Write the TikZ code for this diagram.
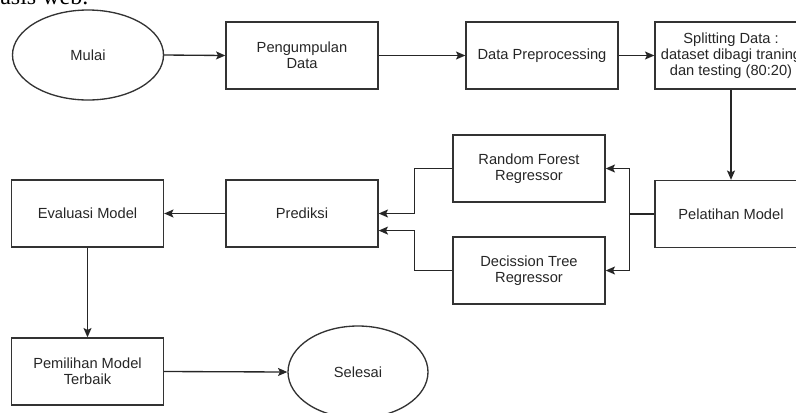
\documentclass[tikz,border=0pt]{standalone}
\usepackage{fontspec}
\setmainfont{Liberation Sans}
\newfontfamily\docserif{Liberation Serif}
\usetikzlibrary{arrows.meta,shapes.geometric,calc}

\begin{document}
\begin{tikzpicture}[x=0.75pt, y=-0.75pt,
    box/.style={draw=black!80, line width=1pt, rectangle, minimum width=114pt, minimum height=50.25pt,
        inner sep=2pt, align=center, text=black!85, font=\fontsize{11}{12}\selectfont},
    oval/.style={draw=black!80, line width=1pt, ellipse, inner sep=0pt, align=center,
        text=black!85, font=\fontsize{11}{12}\selectfont},
    flow/.style={draw=black!85, line width=1pt, -{Stealth[length=7pt, width=6pt, inset=1.5pt]}}]
    \clip (0,0) rectangle (796,412);
    % Cut-off page text
    \node[anchor=base west, inner sep=0pt, font=\docserif\fontsize{18}{20}\selectfont] (pagetext) at (0,4) {asis web.};
    % Flow nodes
    \node[oval, minimum width=113.25pt, minimum height=67.5pt] (mulai) at (88,55) {Mulai};
    \node[box] (kumpul) at (302,55.5) {Pengumpulan\\Data};
    \node[box] (prep) at (542,55.5) {Data Preprocessing};
    \node[box] (split) at (731,55.5) {Splitting Data :\\dataset dibagi traning\\dan testing (80:20)};
    \node[box] (latih) at (731,214) {Pelatihan Model};
    \node[box] (rf) at (529,168.5) {Random Forest\\Regressor};
    \node[box] (dt) at (529,270.5) {Decission Tree\\Regressor};
    \node[box] (prediksi) at (302,213.5) {Prediksi};
    \node[box] (evaluasi) at (87.5,213.5) {Evaluasi Model};
    \node[box] (pilih) at (87.5,371.5) {Pemilihan Model\\Terbaik};
    \node[oval, minimum width=105pt, minimum height=69pt] (selesai) at (358,372) {Selesai};
    % Connectors
    \draw[flow] (mulai.east) -- (kumpul.west);
    \draw[flow] (kumpul.east) -- (prep.west);
    \draw[flow] (prep.east) -- (split.west);
    \draw[flow] (split.south) -- (latih.north);
    \draw[flow] (latih.west) -- ++(-25,0) |- (rf.east);
    \draw[flow] (latih.west) -- ++(-25,0) |- (dt.east);
    \draw[flow] (rf.west) -- ++(-38,0) |- (prediksi.east);
    \draw[flow] (dt.west) -- ++(-38,0) |- ($(prediksi.north east)!0.75!(prediksi.south east)$);
    \draw[flow] (prediksi.west) -- (evaluasi.east);
    \draw[flow] (evaluasi.south) -- (pilih.north);
    \draw[flow] (pilih.east) -- (selesai.west);
\end{tikzpicture}
\end{document}
